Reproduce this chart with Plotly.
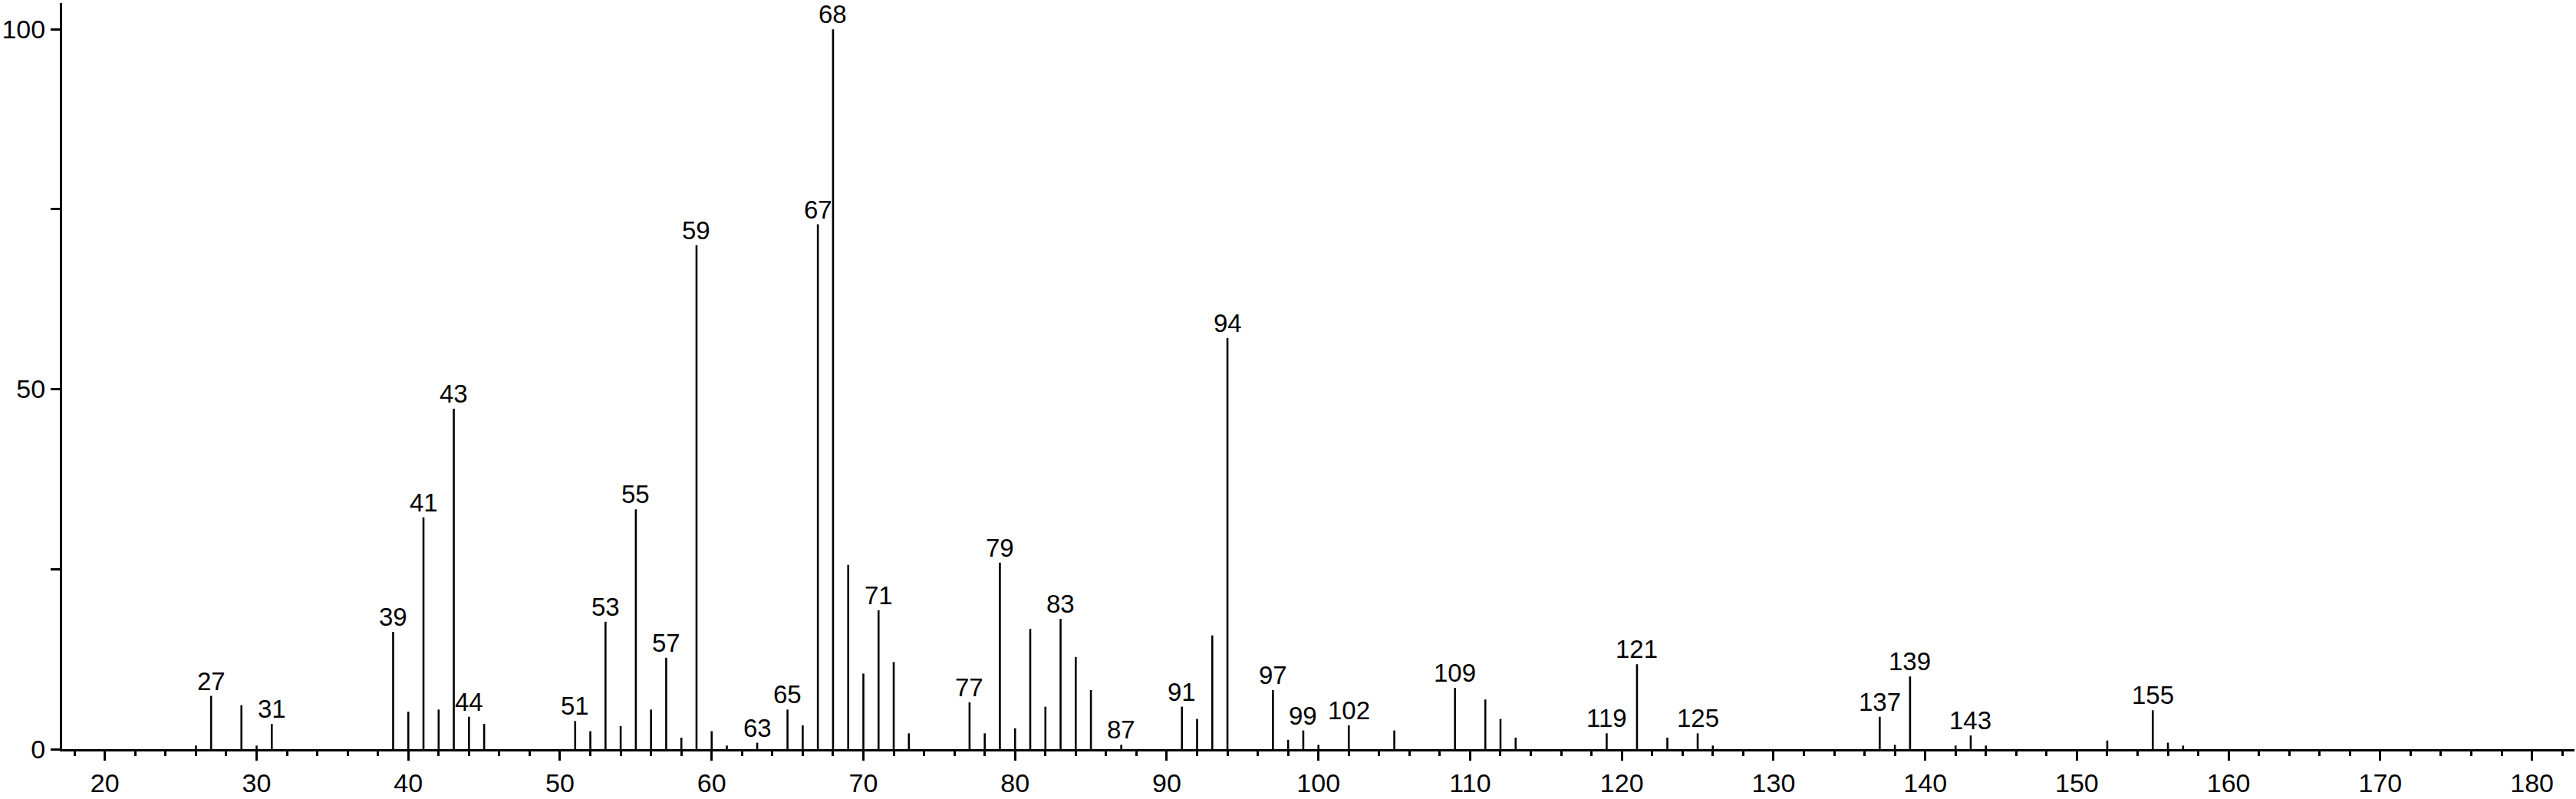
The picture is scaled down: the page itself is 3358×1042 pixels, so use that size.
import plotly.graph_objects as go

# m/z values and relative intensities (%)
mz = [26, 27, 29, 30, 31, 39, 40, 41, 42, 43, 44, 45, 51, 52, 53, 54, 55, 56, 57, 58,
      59, 60, 61, 63, 65, 66, 67, 68, 69, 70, 71, 72, 73, 77, 78, 79, 80, 81, 82, 83,
      84, 85, 87, 91, 92, 93, 94, 97, 98, 99, 100, 102, 105, 109, 111, 112, 113, 119,
      121, 123, 125, 126, 137, 138, 139, 142, 143, 144, 152, 155, 156, 157]
intensity = [0.5, 7.4, 6.1, 0.5, 3.5, 16.3, 5.2, 32.2, 5.5, 47.3, 4.5, 3.5, 3.9, 2.5, 17.7,
             3.2, 33.3, 5.5, 12.7, 1.6, 70.0, 2.5, 0.5, 0.9, 5.5, 3.3, 72.9, 100.0, 25.6,
             10.5, 19.3, 12.1, 2.2, 6.5, 2.2, 25.9, 2.9, 16.7, 5.9, 18.1, 12.8, 8.2, 0.6,
             5.9, 4.2, 15.8, 57.1, 8.2, 1.3, 2.6, 0.6, 3.3, 2.6, 8.5, 6.9, 4.2, 1.6, 2.2,
             11.8, 1.6, 2.2, 0.5, 4.5, 0.6, 10.1, 0.5, 1.9, 0.5, 1.2, 5.4, 0.9, 0.5]
labeled = [27, 31, 39, 41, 43, 44, 51, 53, 55, 57, 59, 63, 65, 67, 68, 71, 77, 79, 83, 87,
           91, 94, 97, 99, 102, 109, 119, 121, 125, 137, 139, 143, 155]

x_tickvals = [20, 30, 40, 50, 60, 70, 80, 90, 100, 110, 120, 130, 140, 150, 160, 170, 180]
y_tickvals = [0, 50, 100]

FONT = "Liberation Sans, Arial, sans-serif"

xs, ys = [], []
for m, v in zip(mz, intensity):
    xs += [m, m, None]
    ys += [0, v, None]

fig = go.Figure()
fig.add_trace(go.Scatter(x=xs, y=ys, mode="lines",
                         line=dict(color="black", width=2.6),
                         hoverinfo="skip", showlegend=False))

lookup = dict(zip(mz, intensity))
for m in labeled:
    fig.add_annotation(x=m, y=lookup[m], text=str(m), showarrow=False,
                       xanchor="center", yanchor="bottom", yshift=-1,
                       font=dict(family=FONT, size=33, color="black"))

fig.update_layout(
    width=3358, height=1042,
    margin=dict(l=70, r=2, t=4, b=54),
    paper_bgcolor="white", plot_bgcolor="white",
    showlegend=False,
    font=dict(family=FONT, size=33, color="black"),
)
fig.update_xaxes(
    range=[17.18, 182.8], showgrid=False, zeroline=False,
    showline=True, linecolor="black", linewidth=3,
    tickmode="array", tickvals=x_tickvals, ticktext=[str(v) for v in x_tickvals],
    ticks="outside", ticklen=12, tickwidth=3, tickcolor="black",
    minor=dict(dtick=2, tick0=0, ticks="outside", ticklen=6, tickwidth=3, tickcolor="black"),
    tickfont=dict(family=FONT, size=34, color="black"),
)
fig.update_yaxes(
    range=[0, 103.64], showgrid=False, zeroline=False,
    showline=True, linecolor="black", linewidth=3,
    tickmode="array", tickvals=y_tickvals, ticktext=[str(v) for v in y_tickvals],
    ticks="outside", ticklen=12, tickwidth=3, tickcolor="black",
    minor=dict(dtick=25, tick0=0, ticks="outside", ticklen=12, tickwidth=3, tickcolor="black"),
    tickfont=dict(family=FONT, size=34, color="black"),
)

fig.write_html("out.html",
               config={"displayModeBar": False},
               post_script="document.body.style.margin='0';document.body.style.overflow='hidden';")
